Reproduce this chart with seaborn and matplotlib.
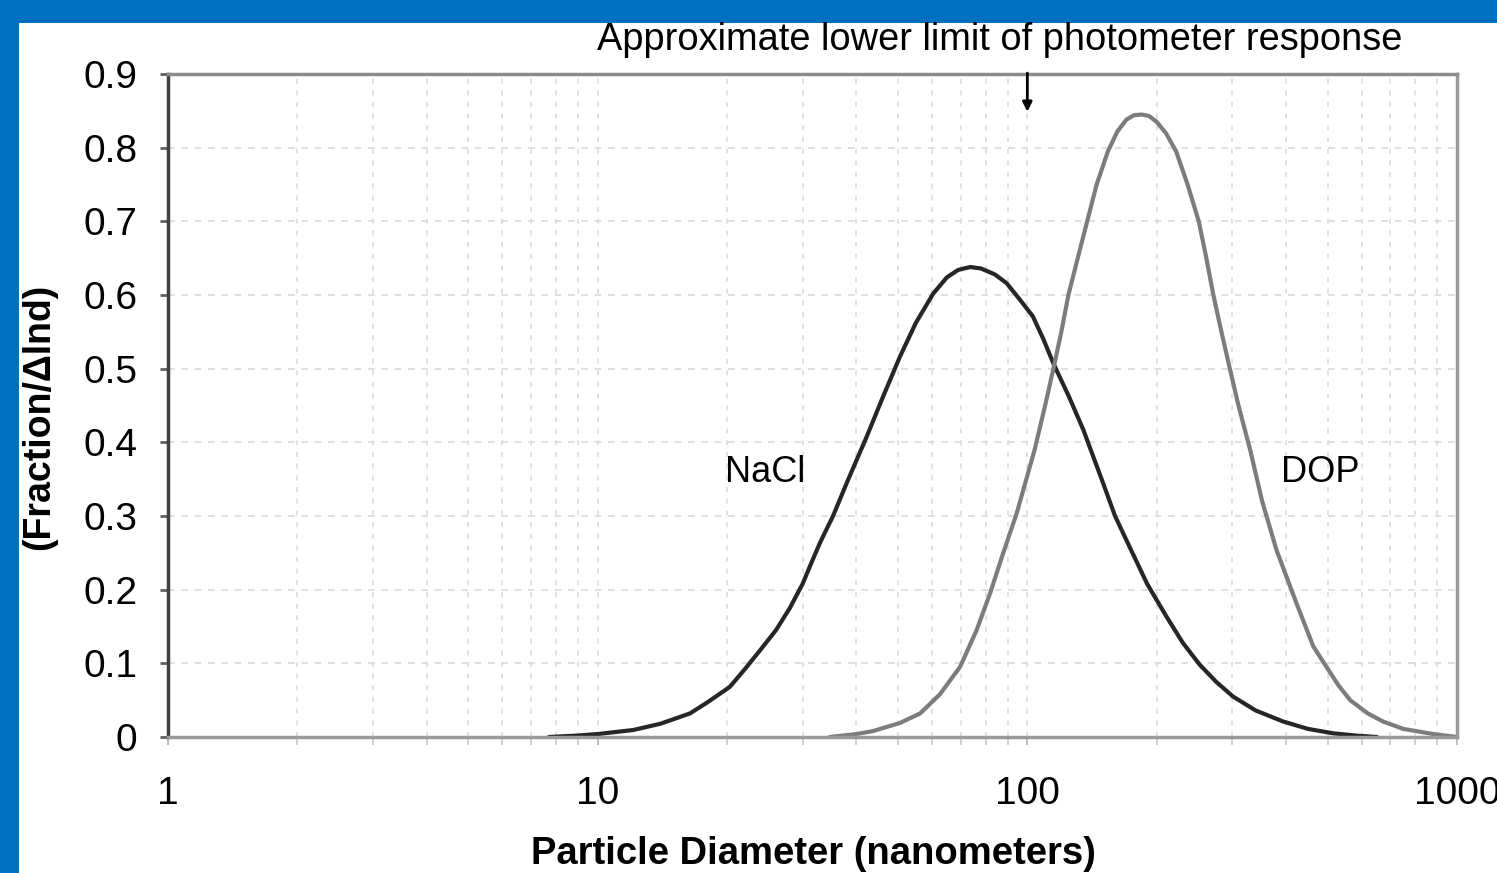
import matplotlib
matplotlib.use("Agg")
import matplotlib.pyplot as plt
import seaborn as sns
import pandas as pd
from matplotlib.patches import Rectangle
from matplotlib.ticker import LogLocator, NullFormatter, FixedLocator

# values
nacl_d = [7.7, 9, 10, 12.1, 14, 16.4, 18, 20.3, 22, 23.9, 26, 28, 30, 31.2, 33, 35.3,
          38, 42.3, 46, 50.5, 55, 60.4, 65, 69, 73.6, 78, 84, 89.5, 96, 103, 109,
          115, 125, 135, 150, 160, 173, 190, 210, 230, 252, 275, 301, 340, 394,
          450, 515, 580, 651]
nacl_y = [0.0, 0.002, 0.004, 0.0095, 0.018, 0.032, 0.047, 0.068, 0.092, 0.118,
          0.145, 0.175, 0.208, 0.232, 0.265, 0.30, 0.345, 0.408, 0.46, 0.516, 0.562,
          0.602, 0.624, 0.634, 0.638, 0.636, 0.628, 0.616, 0.594, 0.571, 0.54,
          0.507, 0.462, 0.417, 0.345, 0.30, 0.258, 0.208, 0.165, 0.128, 0.098,
          0.075, 0.055, 0.036, 0.021, 0.011, 0.005, 0.002, 0.0]

dop_d = [34.7, 40, 43.7, 50.5, 56.3, 62.6, 69.7, 76.2, 81.9, 87.9, 94.5, 104,
         110, 115, 120, 124.6, 131, 137.8, 145, 154, 162, 170, 177, 184.5, 192,
         200, 210, 222, 236, 250.6, 260, 271, 283, 296, 310, 330, 352, 380, 424,
         463, 497, 530, 564, 620, 673, 750, 881, 1000]
dop_y = [0.0, 0.004, 0.008, 0.019, 0.032, 0.058, 0.095, 0.145, 0.195, 0.25,
         0.304, 0.39, 0.45, 0.50, 0.55, 0.60, 0.65, 0.70, 0.75, 0.795, 0.822,
         0.838, 0.844, 0.845, 0.843, 0.835, 0.82, 0.795, 0.75, 0.70, 0.655, 0.60,
         0.55, 0.50, 0.45, 0.39, 0.32, 0.254, 0.18, 0.123, 0.095, 0.07, 0.05,
         0.032, 0.021, 0.011, 0.004, 0.0]

y_ticks = [0, 0.1, 0.2, 0.3, 0.4, 0.5, 0.6, 0.7, 0.8, 0.9]
y_labels = ["0", "0.1", "0.2", "0.3", "0.4", "0.5", "0.6", "0.7", "0.8", "0.9"]
x_ticks = [1, 10, 100, 1000]
x_labels = ["1", "10", "100", "1000"]

sns.set_style("white")
plt.rcParams['font.family'] = ['Liberation Sans', 'DejaVu Sans']
plt.rcParams['text.color'] = 'black'
plt.rcParams['axes.labelcolor'] = 'black'
plt.rcParams['xtick.labelcolor'] = 'black'
plt.rcParams['ytick.labelcolor'] = 'black'

df = pd.concat([
    pd.DataFrame({'d': nacl_d, 'y': nacl_y, 'series': 'NaCl'}),
    pd.DataFrame({'d': dop_d, 'y': dop_y, 'series': 'DOP'}),
])

fig = plt.figure(figsize=(14.97, 8.73), dpi=100)
fig.patch.set_facecolor('#0070C0')
fig.patches.append(Rectangle((19 / 1497, 0), 1, 1 - 23 / 873, transform=fig.transFigure,
                             facecolor='white', edgecolor='none', zorder=-5))

ax = fig.add_axes([168 / 1497, 1 - 737 / 873, (1457 - 168) / 1497, (737 - 74) / 873])
ax.set_zorder(2)
ax.set_facecolor('white')

sns.lineplot(data=df, x='d', y='y', hue='series', palette={'NaCl': '#262626', 'DOP': '#7c7c7c'},
             linewidth=3, legend=False, ax=ax, sort=False, estimator=None,
             solid_joinstyle='round')

ax.set_xscale('log')
ax.set_xlim(1, 1000)
ax.set_ylim(0, 0.9)

ax.set_yticks(y_ticks)
ax.set_yticklabels(y_labels)
ax.xaxis.set_major_locator(FixedLocator(x_ticks))
ax.set_xticklabels(x_labels)
ax.xaxis.set_minor_locator(LogLocator(base=10, subs=range(2, 10)))
ax.xaxis.set_minor_formatter(NullFormatter())

# light dashed grid like the original
ax.grid(True, which='major', axis='y', color='#d9d9d9', linestyle=(0, (4, 4)), linewidth=1.2)
ax.grid(True, which='both', axis='x', color='#dcdcdc', linestyle=(0, (3, 4)), linewidth=1.2)

ax.tick_params(axis='y', which='major', direction='out', length=6, width=2, color='#606060',
               labelsize=28, pad=16, left=True)
ax.tick_params(axis='x', which='major', direction='out', length=6, width=1.2, color='#b0b0b0',
               labelsize=28, pad=22, bottom=True)
ax.tick_params(axis='x', which='minor', direction='out', length=6, width=1.2, color='#c8c8c8',
               bottom=True)

for side, c, w in [('left', '#404040', 2.5), ('top', '#8c8c8c', 2.5),
                   ('right', '#9a9a9a', 2.5), ('bottom', '#9a9a9a', 2.5)]:
    ax.spines[side].set_visible(True)
    ax.spines[side].set_color(c)
    ax.spines[side].set_linewidth(w)

# axis titles placed directly in figure pixels
ax.set_xlabel('')
ax.set_ylabel('')
fig.text(813.5 / 1497, 1 - 836 / 873, 'Particle Diameter (nanometers)', fontsize=27.5,
         fontweight='bold', ha='center', va='top')
fig.text(39 / 1497, 1 - 417 / 873, '(Fraction/Δlnd)', fontsize=27, fontweight='bold',
         ha='center', va='center', rotation=90)

ax.text(765 / 1497, 1 - 473 / 873, 'NaCl', transform=fig.transFigure, fontsize=26,
        ha='center', va='center')
ax.text(1320 / 1497, 1 - 473 / 873, 'DOP', transform=fig.transFigure, fontsize=26,
        ha='center', va='center')

fig.text(1000 / 1497, 1 - 40 / 873, 'Approximate lower limit of photometer response',
         fontsize=27.4, ha='center', va='center')
ax.annotate('', xy=(100, 0.845), xytext=(100, 0.905), xycoords='data',
            arrowprops=dict(arrowstyle='-|>', color='black', lw=2, mutation_scale=14),
            annotation_clip=False)

fig.savefig('out.png', dpi=100, facecolor=fig.get_facecolor())
